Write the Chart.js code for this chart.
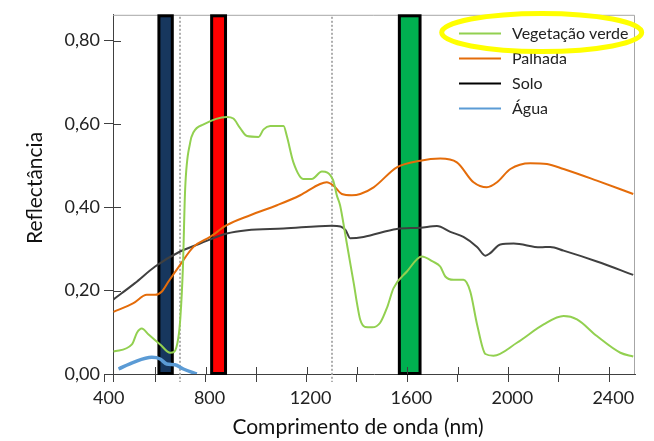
<!DOCTYPE html>
<html>
<head>
<meta charset="utf-8">
<script src="https://cdn.jsdelivr.net/npm/chart.js@4.4.1/dist/chart.umd.min.js"></script>
<style>
  body { margin: 0; background: #fff; }
</style>
</head>
<body>
<canvas id="chart" width="654" height="441"></canvas>
<script>
// Spectral reflectance curves (nm -> reflectance)
const vegNm = [435, 508, 528, 547, 574, 620, 659, 675, 692, 700, 710, 719, 739, 752, 792, 884, 910, 937, 964, 1010, 1030, 1056, 1109, 1122, 1148, 1188, 1221, 1261, 1305, 1320, 1333, 1355, 1375, 1388, 1400, 1413, 1432, 1460, 1492, 1519, 1545, 1598, 1657, 1700, 1730, 1750, 1783, 1822, 1849, 1876, 1909, 1941, 2034, 2140, 2219, 2272, 2351, 2444, 2495]
const vegRef = [0.054, 0.071, 0.099, 0.109, 0.095, 0.071, 0.051, 0.053, 0.087, 0.135, 0.254, 0.444, 0.556, 0.580, 0.599, 0.617, 0.613, 0.590, 0.571, 0.569, 0.587, 0.595, 0.595, 0.571, 0.508, 0.468, 0.468, 0.486, 0.466, 0.429, 0.405, 0.330, 0.260, 0.215, 0.170, 0.130, 0.113, 0.112, 0.123, 0.159, 0.206, 0.246, 0.282, 0.270, 0.258, 0.234, 0.226, 0.226, 0.198, 0.119, 0.048, 0.044, 0.075, 0.119, 0.139, 0.131, 0.091, 0.051, 0.042]

const palhadaNm = [435, 514, 567, 600, 627, 653, 699, 752, 818, 884, 977, 1083, 1175, 1254, 1280, 1307, 1340, 1380, 1413, 1466, 1558, 1651, 1730, 1796, 1862, 1915, 1955, 2008, 2087, 2153, 2219, 2351, 2495]
const palhadaRef = [0.149, 0.170, 0.190, 0.190, 0.198, 0.222, 0.262, 0.305, 0.329, 0.357, 0.381, 0.405, 0.429, 0.456, 0.460, 0.452, 0.432, 0.429, 0.432, 0.448, 0.496, 0.512, 0.517, 0.508, 0.460, 0.448, 0.460, 0.492, 0.506, 0.504, 0.492, 0.464, 0.432]

const soloNm = [435, 520, 600, 699, 778, 884, 964, 1109, 1300, 1335, 1355, 1373, 1426, 1558, 1651, 1717, 1770, 1822, 1876, 1909, 1928, 1968, 2021, 2127, 2166, 2219, 2351, 2495]
const soloRef = [0.179, 0.218, 0.258, 0.294, 0.313, 0.337, 0.345, 0.349, 0.356, 0.354, 0.345, 0.326, 0.329, 0.348, 0.351, 0.355, 0.341, 0.329, 0.305, 0.284, 0.290, 0.311, 0.313, 0.304, 0.305, 0.296, 0.270, 0.238]

const aguaNm = [455, 514, 587, 620, 646, 679, 712, 765]
const aguaRef = [0.012, 0.028, 0.040, 0.036, 0.024, 0.022, 0.012, 0.0]

// sensor bands (start, end nm) and their fills
const bandStart = [615, 824, 1568]
const bandEnd = [668, 879, 1650]
const bandColors = ['#17375E', '#FF0000', '#00B050']

// dotted reference wavelengths
const refLines = [700, 1300]

// axes
const xMin = 433
const xMax = 2502
const xTicks = [400, xMin, 600, 800, 1000, 1200, 1400, 1600, 1800, 2000, 2200, 2400]
const yTicks = [0, 0.2, 0.4, 0.6, 0.8]
const xTitle = 'Comprimento de onda (nm)'
const yTitle = 'Reflectância'

const series = [
    { label: 'Vegetação verde', nm: vegNm, ref: vegRef, color: '#92D050', width: 2 },
    { label: 'Palhada', nm: palhadaNm, ref: palhadaRef, color: '#E46C0A', width: 2 },
    { label: 'Solo', nm: soloNm, ref: soloRef, color: '#404040', width: 2 },
    { label: 'Água', nm: aguaNm, ref: aguaRef, color: '#5B9BD5', width: 3.5 },
]
const legendColors = ['#92D050', '#E46C0A', '#000000', '#5B9BD5']

const fontFamily = 'Lato, "Open Sans", sans-serif'
Chart.defaults.font.family = fontFamily
Chart.defaults.color = '#222'

const bandsPlugin = {
    id: 'bands',
    beforeDatasetsDraw(chart) {
        const { ctx, chartArea: a, scales: { x } } = chart
        ctx.save()
        // thin frame on top and right
        ctx.strokeStyle = '#A6A6A6'
        ctx.lineWidth = 1
        ctx.beginPath()
        ctx.moveTo(a.left, a.top + 0.5)
        ctx.lineTo(a.right - 0.5, a.top + 0.5)
        ctx.lineTo(a.right - 0.5, a.bottom)
        ctx.stroke()
        // dotted lines
        ctx.strokeStyle = '#AEAEAE'
        ctx.lineWidth = 2
        ctx.setLineDash([2, 2])
        refLines.forEach((v) => {
            const px = Math.round(x.getPixelForValue(v))
            ctx.beginPath()
            ctx.moveTo(px, a.top + 2)
            ctx.lineTo(px, a.bottom + 8)
            ctx.stroke()
        })
        ctx.setLineDash([])
        // bands
        bandStart.forEach((s, i) => {
            const x0 = x.getPixelForValue(s)
            const x1 = x.getPixelForValue(bandEnd[i])
            ctx.fillStyle = bandColors[i]
            ctx.fillRect(x0, a.top + 1, x1 - x0, a.bottom - a.top - 1.5)
            ctx.strokeStyle = '#000'
            ctx.lineWidth = 3
            ctx.strokeRect(x0, a.top + 1, x1 - x0, a.bottom - a.top - 1.5)
        })
        ctx.restore()
    },
    afterDraw(chart) {
        const { ctx, chartArea: a, scales: { x, y } } = chart
        ctx.save()
        // inner half of the crossing tick marks
        ctx.strokeStyle = '#404040'
        ctx.lineWidth = 1
        ctx.beginPath()
        x.ticks.forEach((t) => {
            if (t.value <= xMin) return
            const px = Math.round(x.getPixelForValue(t.value)) + 0.5
            ctx.moveTo(px, a.bottom)
            ctx.lineTo(px, a.bottom - 7)
        })
        y.ticks.forEach((t) => {
            const py = Math.round(y.getPixelForValue(t.value)) + 0.5
            ctx.moveTo(a.left, py)
            ctx.lineTo(a.left + 8, py)
        })
        ctx.stroke()

        // axis titles
        ctx.fillStyle = '#111'
        ctx.textAlign = 'center'
        ctx.textBaseline = 'middle'
        ctx.font = '21px ' + fontFamily
        ctx.fillText(xTitle, 358, 427)
        ctx.save()
        ctx.translate(35, 188)
        ctx.rotate(-Math.PI / 2)
        ctx.fillText(yTitle, 0, 0)
        ctx.restore()

        // legend
        ctx.textAlign = 'left'
        ctx.font = '16px ' + fontFamily
        ctx.fillStyle = '#222'
        series.forEach((s, i) => {
            const ly = 33.5 + i * 25
            ctx.strokeStyle = legendColors[i]
            ctx.lineWidth = 2
            ctx.beginPath()
            ctx.moveTo(459, ly)
            ctx.lineTo(501, ly)
            ctx.stroke()
            ctx.fillText(s.label, 512, ly)
        })
        // highlight ring round the first entry
        ctx.strokeStyle = '#FFFF00'
        ctx.lineWidth = 5
        ctx.beginPath()
        ctx.ellipse(541.7, 32.5, 100, 19, 0, 0, Math.PI * 2)
        ctx.stroke()
        ctx.restore()
    },
}

const chart = new Chart(document.getElementById('chart'), {
    type: 'line',
    data: {
        datasets: series.map((s) => ({
            label: s.label,
            data: s.nm.map((v, i) => ({ x: v, y: s.ref[i] })),
            borderColor: s.color,
            borderWidth: s.width,
            pointRadius: 0,
            cubicInterpolationMode: 'monotone',
            fill: false,
        })),
    },
    options: {
        responsive: false,
        animation: false,
        devicePixelRatio: 1,
        layout: { padding: { top: 12, right: 19, left: 0, bottom: 0 } },
        plugins: {
            legend: { display: false },
            tooltip: { enabled: false },
        },
        scales: {
            x: {
                type: 'linear',
                min: xMin,
                max: xMax,
                afterBuildTicks: (scale) => {
                    scale.ticks = xTicks.map((v) => ({ value: v }))
                },
                afterFit: (scale) => {
                    scale.height = 67
                },
                ticks: {
                    autoSkip: false,
                    maxRotation: 0,
                    labelOffset: 4,
                    padding: 5,
                    color: '#222',
                    font: { size: 18 },
                    callback: (v) => (v % 400 === 0 ? String(v) : ''),
                },
                grid: {
                    drawOnChartArea: false,
                    tickLength: 8,
                    color: '#404040',
                },
                border: { color: '#404040' },
            },
            y: {
                min: 0,
                max: 0.862,
                afterBuildTicks: (scale) => {
                    scale.ticks = yTicks.map((v) => ({ value: v }))
                },
                afterFit: (scale) => {
                    scale.width = 113
                },
                ticks: {
                    padding: 4,
                    color: '#222',
                    font: { size: 18 },
                    callback: (v) => v.toFixed(2).replace('.', ','),
                },
                grid: {
                    drawOnChartArea: false,
                    tickLength: 9,
                    color: '#404040',
                },
                border: { color: '#404040' },
            },
        },
    },
    plugins: [bandsPlugin],
})
</script>
</body>
</html>
